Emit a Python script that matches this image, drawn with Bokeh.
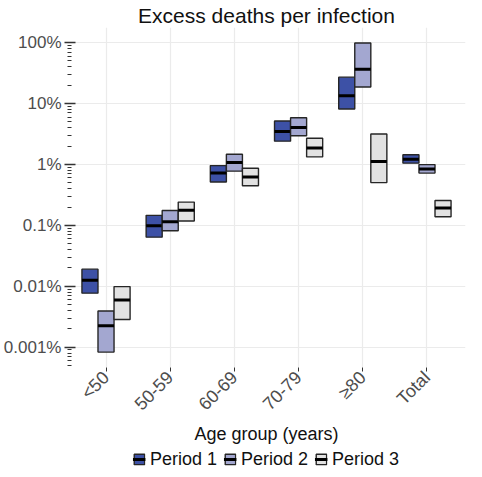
import math
from bokeh.plotting import figure
from bokeh.layouts import column
from bokeh.models import (FactorRange, Range1d, ColumnDataSource, FixedTicker,
                          Legend, LegendItem)
from bokeh.transform import dodge
from bokeh.embed import file_html
from bokeh.resources import INLINE

# ---- data (percent) ----
age_groups = ["<50", "50-59", "60-69", "70-79", "≥80", "Total"]
period_names = ["Period 1", "Period 2", "Period 3"]

p1_mid = [0.0126, 0.098, 0.72, 3.48, 13.4, 1.22]
p1_lo = [0.0077, 0.064, 0.516, 2.41, 8.13, 1.05]
p1_hi = [0.0191, 0.146, 0.957, 5.15, 27.1, 1.44]

p2_mid = [0.00225, 0.114, 1.08, 4.03, 36.4, 0.843]
p2_lo = [0.00083, 0.0817, 0.775, 2.96, 18.7, 0.72]
p2_hi = [0.00392, 0.175, 1.47, 5.83, 98.6, 0.993]

p3_mid = [0.00594, 0.177, 0.621, 1.86, 1.12, 0.193]
p3_lo = [0.00284, 0.118, 0.446, 1.33, 0.503, 0.138]
p3_hi = [0.00986, 0.2405, 0.866, 2.69, 3.15, 0.256]

y_ticks = [0.001, 0.01, 0.1, 1, 10, 100]
y_tick_labels = ["0.001%", "0.01%", "0.1%", "1%", "10%", "100%"]

colors = ["#3d51a6", "#a3a7d0", "#e2e2e2"]
FONT = "Liberation Sans"
BOX_LINE = "#262626"

x_range = FactorRange(factors=age_groups, range_padding=0.1,
                      range_padding_units="absolute")
y_range = Range1d(10 ** -3.334, 10 ** 2.248)

p = figure(frame_width=398, frame_height=340, x_range=x_range, y_range=y_range,
           y_axis_type="log", output_backend="svg", toolbar_location=None,
           title="Excess deaths per infection",
           min_border_left=2, min_border_right=2, min_border_top=0,
           min_border_bottom=0)

p.title.text_font = FONT
p.title.text_font_size = "21px"
p.title.text_font_style = "normal"
p.title.align = "center"
p.title.text_color = "#111111"
p.title.standoff = 2
p.outline_line_color = None

series = [(p1_lo, p1_mid, p1_hi), (p2_lo, p2_mid, p2_hi), (p3_lo, p3_mid, p3_hi)]
offsets = [-0.25, 0.0, 0.25]
w = 0.25
for (lo, mid, hi), off, col in zip(series, offsets, colors):
    src = ColumnDataSource(dict(cat=age_groups, lo=lo, mid=mid, hi=hi))
    p.vbar(x=dodge("cat", off, range=x_range), width=w, bottom="lo", top="hi",
           source=src, fill_color=col, line_color=BOX_LINE, line_width=1.4)
    p.segment(x0=dodge("cat", off - w / 2, range=x_range),
              x1=dodge("cat", off + w / 2, range=x_range),
              y0="mid", y1="mid", source=src, line_color="black", line_width=3)

# y axis
minor = [m * 10.0 ** k for k in range(-4, 3) for m in range(2, 10)]
p.yaxis.ticker = FixedTicker(ticks=y_ticks, minor_ticks=minor)
p.yaxis.major_label_overrides = {t: l for t, l in zip(y_ticks, y_tick_labels)}
p.yaxis.axis_line_color = None
p.yaxis.major_tick_in = 8
p.yaxis.major_tick_out = 3
p.yaxis.minor_tick_in = 4
p.yaxis.minor_tick_out = 0
p.yaxis.major_tick_line_color = "#333333"
p.yaxis.major_tick_line_width = 1.5
p.yaxis.minor_tick_line_color = "#333333"
p.yaxis.minor_tick_line_width = 1.2
p.yaxis.major_label_text_font = FONT
p.yaxis.major_label_text_font_size = "17px"
p.yaxis.major_label_text_color = "#4d4d4d"
p.yaxis.major_label_standoff = 3

# x axis
p.xaxis.axis_label = "Age group (years)"
p.xaxis.axis_label_text_font = FONT
p.xaxis.axis_label_text_font_size = "18px"
p.xaxis.axis_label_text_font_style = "normal"
p.xaxis.axis_label_text_color = "#111111"
p.xaxis.axis_label_standoff = 0
p.xaxis.axis_line_color = None
p.xaxis.major_tick_in = 0
p.xaxis.major_tick_out = 4
p.xaxis.major_tick_line_color = "#333333"
p.xaxis.major_label_orientation = math.pi / 4
p.xaxis.major_label_text_font = FONT
p.xaxis.major_label_text_font_size = "18px"
p.xaxis.major_label_text_color = "#4d4d4d"
p.xaxis.major_label_standoff = 3

p.xgrid.grid_line_color = "#ebebeb"
p.ygrid.grid_line_color = "#ebebeb"
p.xgrid.grid_line_width = 1.2
p.ygrid.grid_line_width = 1.2

# ---- legend strip (separate figure below the chart) ----
lg = figure(width=466, height=24, x_range=Range1d(0, 1), y_range=Range1d(0, 1),
            output_backend="svg", toolbar_location=None,
            x_axis_location=None, y_axis_location=None,
            min_border_left=66, min_border_right=0, min_border_top=0,
            min_border_bottom=0)
lg.outline_line_color = None
lg.xgrid.visible = False
lg.ygrid.visible = False
items = []
nan = float("nan")
for col, name in zip(colors, period_names):
    # one non-drawn swatch row so the legend can draw its key
    swatch = ColumnDataSource(dict(x=[nan], lo=[nan], hi=[nan],
                                   x0=[nan], x1=[nan], y=[nan]))
    r1 = lg.vbar(x="x", width=0.1, bottom="lo", top="hi", source=swatch,
                 fill_color=col, line_color=BOX_LINE, line_width=1.4)
    r2 = lg.segment(x0="x0", x1="x1", y0="y", y1="y", source=swatch,
                    line_color="black", line_width=3)
    items.append(LegendItem(label=name, renderers=[r1, r2]))

legend = Legend(items=items, orientation="horizontal", location="center",
                label_text_font=FONT, label_text_font_size="18px",
                label_text_color="#111111", glyph_width=13, glyph_height=13,
                label_height=18, spacing=6, padding=2, margin=0,
                label_standoff=5, border_line_color=None,
                background_fill_alpha=0)
lg.add_layout(legend)

layout = column(p, lg, spacing=0)
open("out.html", "w").write(file_html(layout, INLINE))
